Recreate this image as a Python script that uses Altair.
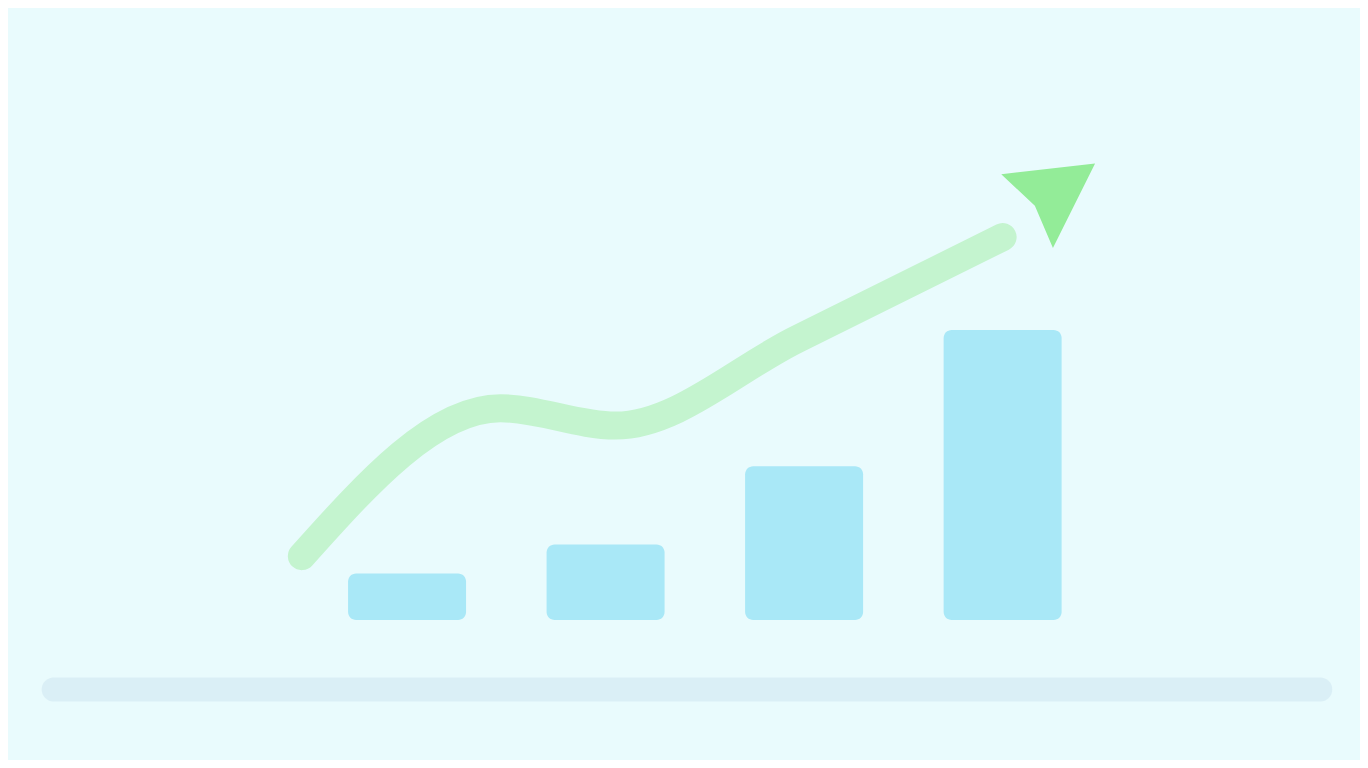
import altair as alt
import pandas as pd

# bars (category position, value)
bar_pos = [1, 2, 3, 4]
bar_val = [1.6, 2.6, 5.3, 10.0]

# rising trend line
line_x = [0.47, 1.47, 2.05, 2.97, 4.0]
line_y = [2.2, 7.3, 6.7, 9.7, 13.2]

# arrow head
arrow_x = [4.27]
arrow_y = [14.8]

# faint baseline
base_x = [-0.78, 5.6]
base_y = [-2.4]

bars = pd.DataFrame({"x": bar_pos, "v": bar_val})
line = pd.DataFrame({"x": line_x, "y": line_y})
arrow = pd.DataFrame({"x": arrow_x, "y": arrow_y})
base = pd.DataFrame({"x": [base_x[0]], "x2": [base_x[1]], "y": base_y})

xs = alt.Scale(domain=[-0.985, 5.775], nice=False, zero=False)
ys = alt.Scale(domain=[-4.83, 21.1], nice=False, zero=False)
noax = None

bar_layer = alt.Chart(bars).mark_bar(
    color="#a9e8f7", size=118, cornerRadius=8
).encode(
    x=alt.X("x:Q", scale=xs, axis=noax),
    y=alt.Y("v:Q", scale=ys, axis=noax),
    y2=alt.datum(0),
)

line_layer = alt.Chart(line).mark_line(
    color="#c4f4cf", strokeWidth=28, strokeCap="round", strokeJoin="round", interpolate="monotone"
).encode(
    x=alt.X("x:Q", scale=xs, axis=noax),
    y=alt.Y("y:Q", scale=ys, axis=noax),
)

arrow_layer = alt.Chart(arrow).mark_point(
    shape="M0,-1 L0.95,0.75 L0,0.55 L-0.95,0.75 Z", filled=True, color="#93ec98",
    size=9000, angle=55, opacity=1
).encode(
    x=alt.X("x:Q", scale=xs, axis=noax),
    y=alt.Y("y:Q", scale=ys, axis=noax),
)

base_layer = alt.Chart(base).mark_rule(
    color="#d8edf5", strokeWidth=24, strokeCap="round", opacity=0.9
).encode(
    x=alt.X("x:Q", scale=xs, axis=noax),
    x2="x2:Q",
    y=alt.Y("y:Q", scale=ys, axis=noax),
)

chart = alt.layer(base_layer, bar_layer, line_layer, arrow_layer).properties(
    width=1352, height=752,
    autosize=alt.AutoSizeParams(type="fit", contains="padding"),
    padding=0,
    background="#e9fbfd",
).configure_view(stroke=None)

chart.save("out.html", embed_options={"renderer": "svg", "actions": False})
